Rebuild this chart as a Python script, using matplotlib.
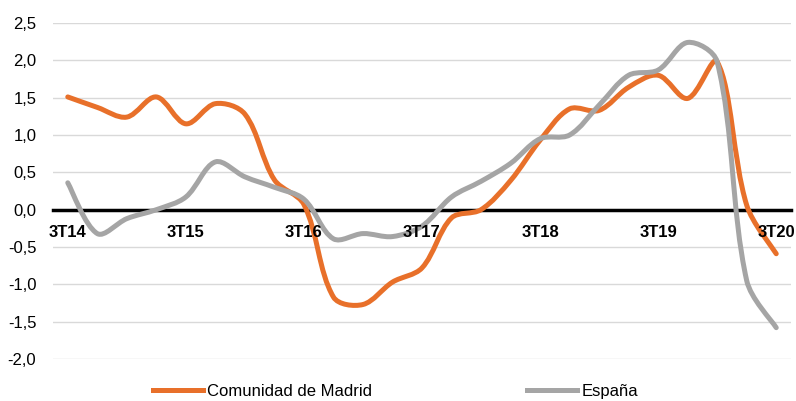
import matplotlib
matplotlib.use('Agg')
import matplotlib.pyplot as plt
import numpy as np
from matplotlib.path import Path
from matplotlib.patches import PathPatch
from matplotlib.lines import Line2D

plt.rcParams['font.family'] = ['Liberation Sans', 'DejaVu Sans']

# quarterly data, 3T14 .. 3T20
madrid = [1.51, 1.37, 1.24, 1.51, 1.15, 1.42, 1.28, 0.40, 0.07, -1.17, -1.27, -0.97, -0.78,
          -0.11, 0.0, 0.39, 0.93, 1.35, 1.33, 1.64, 1.80, 1.49, 1.98, 0.06, -0.59]
espana = [0.36, -0.32, -0.12, 0.0, 0.17, 0.64, 0.44, 0.30, 0.14, -0.39, -0.32, -0.36, -0.22,
          0.17, 0.38, 0.62, 0.95, 1.0, 1.40, 1.80, 1.87, 2.24, 1.98, -0.95, -1.58]
xlabels = ['3T14', '3T15', '3T16', '3T17', '3T18', '3T19', '3T20']
series_names = ['Comunidad de Madrid', 'España']
colors = ['#E8702A', '#A5A5A5']

YSCALE = 2.53  # pixel aspect of one y unit vs one category step


def smooth_path(ys):
    # smoothed line like the spreadsheet one: bezier through every point,
    # handles sized by the length of the neighbouring segments
    pts = np.column_stack([np.arange(len(ys)), ys]).astype(float)
    n = len(pts)
    sc = pts * [1, YSCALE]
    d = np.hypot(*(np.diff(sc, axis=0).T))
    out_h = np.zeros_like(pts)
    in_h = np.zeros_like(pts)
    for i in range(n):
        if i == 0:
            out_h[i] = (pts[1] - pts[0]) / 6.0
        elif i == n - 1:
            in_h[i] = (pts[i] - pts[i - 1]) / 6.0
        else:
            t = pts[i + 1] - pts[i - 1]
            s = d[i - 1] + d[i]
            out_h[i] = t * d[i] / s / 3.0
            in_h[i] = t * d[i - 1] / s / 3.0
    verts = [pts[0]]
    codes = [Path.MOVETO]
    for i in range(n - 1):
        verts += [pts[i] + out_h[i], pts[i + 1] - in_h[i + 1], pts[i + 1]]
        codes += [Path.CURVE4] * 3
    return Path(verts, codes)


fig = plt.figure(figsize=(7.96, 4.01), dpi=100)
ax = fig.add_axes([0.0666, 0.1047, 0.9271, 0.8379])

for s in ['top', 'right', 'left']:
    ax.spines[s].set_visible(False)
ax.spines['bottom'].set_position(('data', 0))
ax.spines['bottom'].set_linewidth(2.5)
ax.spines['bottom'].set_zorder(2)

for ys, c in zip([madrid, espana], colors):
    ax.add_patch(PathPatch(smooth_path(ys), facecolor='none', edgecolor=c, lw=3.6,
                           capstyle='round', joinstyle='round', zorder=2.2))

ax.set_xlim(-0.5, len(madrid) - 0.5)
ax.set_ylim(-2.0, 2.5)

yt = np.arange(-2.0, 2.51, 0.5)
ax.set_yticks(yt)
ax.set_yticklabels([('%.1f' % v).replace('.', ',') for v in yt], fontsize=12)
ax.tick_params(axis='y', length=0, pad=12)
for v in yt:
    if abs(v) > 1e-9:
        ax.axhline(v, color='#D9D9D9', lw=1.0, zorder=1)

ax.set_xticks(np.arange(0, len(madrid), 4))
ax.set_xticklabels(xlabels, fontsize=12, fontweight='bold')
ax.tick_params(axis='x', length=0, pad=11)
ax.xaxis.set_zorder(3)

handles = [Line2D([], [], color=c, lw=3.6) for c in colors]
fig.legend(handles, series_names, loc='center', bbox_to_anchor=(0.497, 0.024), ncol=2,
           frameon=False, fontsize=12, handlelength=3.0, handletextpad=0.25,
           columnspacing=9.3)

fig.savefig('out.png', dpi=100)
